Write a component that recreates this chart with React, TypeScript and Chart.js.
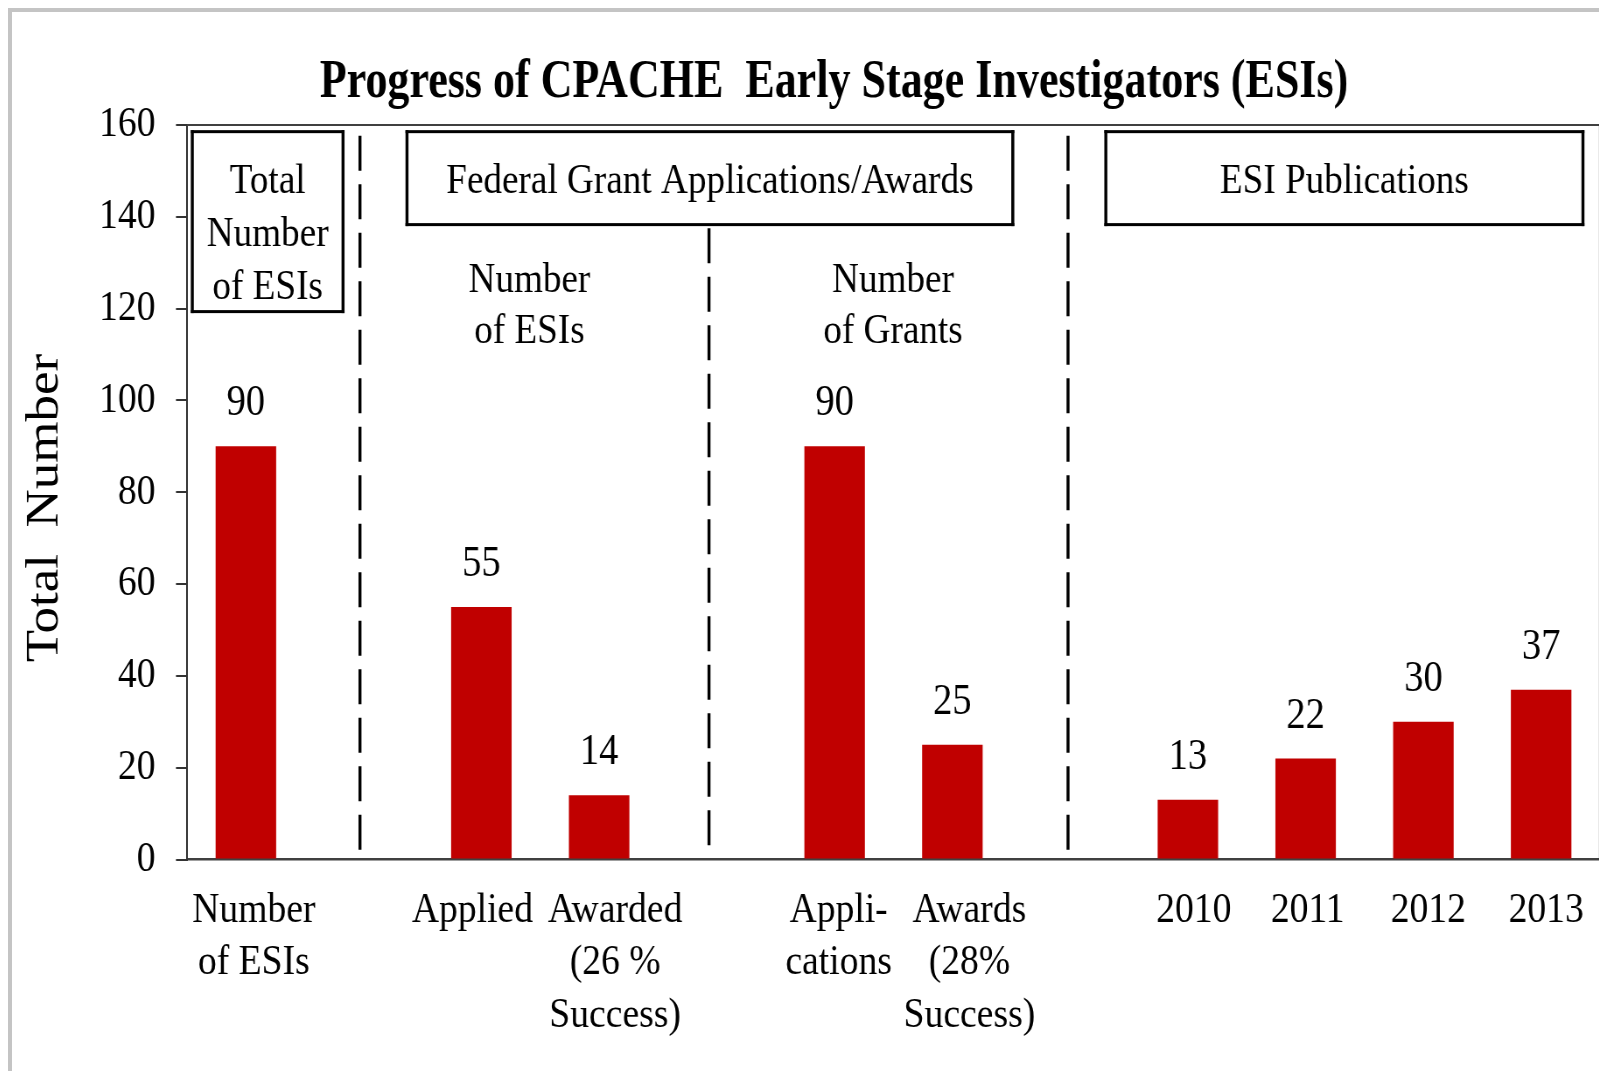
import React, { useEffect, useRef } from "react";
import { Chart, registerables } from "chart.js";

Chart.register(...registerables);

// ---------- data ----------
const categories: (string | string[])[] = [
  ["Number", "of ESIs"],
  "",
  "Applied",
  ["Awarded", "(26 %", "Success)"],
  "",
  ["Appli-", "cations"],
  ["Awards", "(28%", "Success)"],
  "",
  "2010",
  "2011",
  "2012",
  "2013",
];
const totalNumber: (number | null)[] = [90, null, 55, 14, null, 90, 25, null, 13, 22, 30, 37];
const yTickValues = [0, 20, 40, 60, 80, 100, 120, 140, 160];
const chartTitle = "Progress of CPACHE  Early Stage Investigators (ESIs)";
const yAxisTitle = "Total  Number";
const groupHeaders: string[][] = [
  ["Total", "Number", "of ESIs"],
  ["Federal Grant Applications/Awards"],
  ["ESI Publications"],
];
const subHeaders: string[][] = [
  ["Number", "of ESIs"],
  ["Number", "of Grants"],
];

// ---------- layout / style ----------
const CSS_W = 1595;
const CSS_H = 1059;
const CANVAS_W = Math.round(CSS_W / 0.875);
const SX = CSS_W / CANVAS_W; // horizontal squeeze of the picture
const SERIF = "'Liberation Serif', 'Times New Roman', Times, serif";
const BAR_RED = "#C00000";
const LABEL_FONT = 43;
const LABEL_LINE = 52.5;
// horizontal nudge (screen px) of each category label relative to its slot centre
const labelNudge = [8, 0, -9, 16, 0, 4, 17, 0, 6, 2, 5, 5];

// annotation geometry in axis units (category index / y value)
const boxLayout = [
  { x0: -0.455, x1: 0.825, top: 158.55, bottom: 119.35 },
  { x0: 1.368, x1: 6.513, top: 158.55, bottom: 138.3 },
  { x0: 7.303, x1: 11.355, top: 158.55, bottom: 138.3 },
];
const dividerLayout = [
  { x: 0.969, top: 158.7, bottom: 2.1 },
  { x: 3.933, top: 138.3, bottom: 3.1 },
  { x: 6.982, top: 158.7, bottom: 2.1 },
];
const subHeaderLayout = [
  { x: 2.408, y: 123.7 },
  { x: 5.496, y: 123.7 },
];

const annotationPlugin = {
  id: "annotations",
  afterDraw(chart: any) {
    const { ctx, chartArea } = chart;
    const xs = chart.scales.x;
    const ys = chart.scales.y;
    ctx.save();

    // plot frame (top and right)
    ctx.fillStyle = "#404040";
    ctx.fillRect(chartArea.left, chartArea.top - 1, chartArea.right - chartArea.left, 2);
    ctx.fillRect(chartArea.right - 1 / SX, chartArea.top - 1, 2 / SX, chartArea.bottom - chartArea.top + 1);

    // value labels
    ctx.fillStyle = "#000";
    ctx.font = `44px ${SERIF}`;
    ctx.textAlign = "center";
    ctx.textBaseline = "alphabetic";
    const meta = chart.getDatasetMeta(0);
    meta.data.forEach((bar: any, i: number) => {
      const v = totalNumber[i];
      if (v == null) return;
      ctx.fillText(String(v), bar.x, bar.y - 31);
    });

    // category labels under the x axis
    ctx.font = `${LABEL_FONT}px ${SERIF}`;
    (chart.data.labels as (string | string[])[]).forEach((lab, i) => {
      const lines = Array.isArray(lab) ? lab : [lab];
      const x = xs.getPixelForValue(i) + labelNudge[i] / SX;
      lines.forEach((line, k) => {
        if (line) ctx.fillText(line, x, chartArea.bottom + 62 + k * LABEL_LINE);
      });
    });

    // dashed dividers
    ctx.strokeStyle = "#000";
    ctx.lineWidth = 3 / SX;
    ctx.setLineDash([35, 13.5]);
    dividerLayout.forEach((d) => {
      const x = xs.getPixelForValue(d.x);
      ctx.beginPath();
      ctx.moveTo(x, ys.getPixelForValue(d.bottom));
      ctx.lineTo(x, ys.getPixelForValue(d.top));
      ctx.stroke();
    });
    ctx.setLineDash([]);

    // header boxes
    const t = 3;
    const tv = t / SX;
    boxLayout.forEach((b, i) => {
      const x0 = xs.getPixelForValue(b.x0);
      const x1 = xs.getPixelForValue(b.x1);
      const y0 = ys.getPixelForValue(b.top);
      const y1 = ys.getPixelForValue(b.bottom);
      ctx.fillStyle = "#fff";
      ctx.fillRect(x0, y0, x1 - x0, y1 - y0);
      ctx.fillStyle = "#000";
      ctx.fillRect(x0 - tv / 2, y0 - t / 2, x1 - x0 + tv, t);
      ctx.fillRect(x0 - tv / 2, y1 - t / 2, x1 - x0 + tv, t);
      ctx.fillRect(x0 - tv / 2, y0 - t / 2, tv, y1 - y0 + t);
      ctx.fillRect(x1 - tv / 2, y0 - t / 2, tv, y1 - y0 + t);
      ctx.font = `42.5px ${SERIF}`;
      ctx.textAlign = "center";
      const cx = (x0 + x1) / 2;
      groupHeaders[i].forEach((line, k) => {
        ctx.fillText(line, cx, y0 + 61 + k * 53);
      });
    });

    // sub headers
    subHeaderLayout.forEach((s, i) => {
      const cx = xs.getPixelForValue(s.x);
      const y = ys.getPixelForValue(s.y);
      subHeaders[i].forEach((line, k) => {
        ctx.fillText(line, cx, y + k * 51.6);
      });
    });

    // y axis title
    ctx.save();
    ctx.font = `53px ${SERIF}`;
    ctx.textAlign = "center";
    ctx.textBaseline = "middle";
    ctx.translate((45 - 12) / SX, 508 - 12);
    ctx.rotate(-Math.PI / 2);
    ctx.fillText(yAxisTitle, 0, 0);
    ctx.restore();

    // chart title
    ctx.font = `bold 55px ${SERIF}`;
    ctx.textAlign = "center";
    ctx.textBaseline = "alphabetic";
    ctx.translate((834 - 12) / SX, 84.5);
    ctx.scale(0.915, 1);
    ctx.fillText(chartTitle, 0, 0);

    ctx.restore();
  },
};

export default function App() {
  const ref = useRef<HTMLCanvasElement | null>(null);

  useEffect(() => {
    if (!ref.current) return;
    const chart = new Chart(ref.current, {
      type: "bar",
      data: {
        labels: categories,
        datasets: [
          {
            label: "Total Number",
            data: totalNumber,
            backgroundColor: BAR_RED,
            borderWidth: 0,
            barPercentage: 0.514,
            categoryPercentage: 1,
          },
        ],
      },
      options: {
        animation: false,
        responsive: false,
        maintainAspectRatio: false,
        devicePixelRatio: 1,
        events: [],
        layout: { padding: { top: 113, right: 8, left: 0, bottom: 0 } },
        plugins: {
          legend: { display: false },
          tooltip: { enabled: false },
          title: { display: false },
        },
        scales: {
          x: {
            type: "category",
            z: 1,
            grid: { display: false, drawTicks: false, tickLength: 0 },
            border: { display: true, color: "#404040", width: 2.5 },
            ticks: {
              display: false,
              autoSkip: false,
              maxRotation: 0,
              minRotation: 0,
            },
            afterFit: (s: any) => {
              s.height = 211.5;
            },
          },
          y: {
            min: yTickValues[0],
            max: yTickValues[yTickValues.length - 1],
            ticks: {
              stepSize: yTickValues[1] - yTickValues[0],
              padding: 23.4,
              color: "#000",
              font: { family: SERIF, size: 43 },
            },
            grid: {
              drawOnChartArea: false,
              drawTicks: true,
              tickLength: 12.6,
              color: "#333",
              lineWidth: 2,
            },
            border: { display: true, color: "#333", width: 2 },
            title: { display: false, text: yAxisTitle },
            afterFit: (s: any) => {
              s.width = 200;
            },
          },
        },
      },
      plugins: [annotationPlugin],
    } as any);
    return () => chart.destroy();
  }, []);

  return (
    <div
      style={{
        width: 1599,
        height: 1063,
        boxSizing: "border-box",
        borderTop: "4px solid #c4c4c4",
        borderLeft: "4px solid #c4c4c4",
        background: "#fff",
        overflow: "hidden",
      }}
    >
      <canvas
        ref={ref}
        width={CANVAS_W}
        height={CSS_H}
        style={{ display: "block", width: `${CSS_W}px`, height: `${CSS_H}px` }}
      />
    </div>
  );
}
